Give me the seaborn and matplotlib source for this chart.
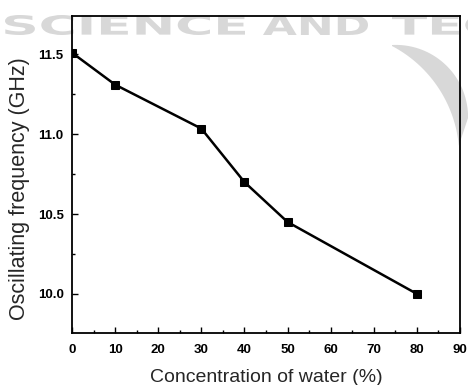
import matplotlib
matplotlib.use("Agg")
import matplotlib.pyplot as plt
from matplotlib.ticker import MultipleLocator, FormatStrFormatter
from matplotlib.textpath import TextPath
from matplotlib.font_manager import FontProperties
from matplotlib.patches import PathPatch, Polygon
from matplotlib.transforms import Affine2D
import numpy as np
import seaborn as sns
import pandas as pd

concentration = [0, 10, 30, 40, 50, 80]
frequency = [11.51, 11.31, 11.035, 10.70, 10.45, 10.00]
x_label = "Concentration of water (%)"
y_label = "Oscillating frequency (GHz)"

sns.set_style("white")
plt.rcParams['font.family'] = ['Liberation Sans', 'DejaVu Sans']

df = pd.DataFrame({"x": concentration, "y": frequency})

W, H = 468, 385
fig = plt.figure(figsize=(W / 100, H / 100), dpi=100)

# ---- watermark in a background axes ----
bg = fig.add_axes([0, 0, 1, 1], zorder=-10)
bg.set_axis_off()
bg.set_xlim(0, W)
bg.set_ylim(H, 0)   # pixel coords, y down
wm_color = '#d8d8d8'
fp = FontProperties(family='DejaVu Sans', weight='bold')
def word_patch(word, x0, x1, ytop, ybot, sx=None):
    tp = TextPath((0, 0), word, size=10, prop=fp)
    ext = tp.get_extents()
    sy = (ybot - ytop) / ext.height
    if sx is None:
        sx = (x1 - x0) / ext.width
    tr = Affine2D().translate(-ext.x0, -ext.y0).scale(sx, -sy).translate(x0, ybot)
    bg.add_patch(PathPatch(tr.transform_path(tp), facecolor=wm_color,
                           edgecolor='none'))
    return sx
sx = word_patch("SCIENCE", 5, 245, 15, 35)
word_patch("AND", 263, 368, 15, 35)
word_patch("TEC", 392, None, 15, 35, sx=sx)

def circle3(p1, p2, p3):
    (x1, y1), (x2, y2), (x3, y3) = p1, p2, p3
    A = np.array([[x2 - x1, y2 - y1], [x3 - x1, y3 - y1]], float)
    b = 0.5 * np.array([x2**2 - x1**2 + y2**2 - y1**2, x3**2 - x1**2 + y3**2 - y1**2])
    c = np.linalg.solve(A, b)
    return c, np.hypot(x1 - c[0], y1 - c[1])
def arc_pts(p_start, p_mid, p_end, n=80):
    c, r = circle3(p_start, p_mid, p_end)
    a0 = np.arctan2(p_start[1] - c[1], p_start[0] - c[0])
    a1 = np.arctan2(p_end[1] - c[1], p_end[0] - c[0])
    a = np.linspace(a0, a1 + 0.25, n)
    return np.column_stack([c[0] + r * np.cos(a), c[1] + r * np.sin(a)])
outer = arc_pts((392, 45), (440, 60), (466, 100))
inner = arc_pts((392, 46), (420, 66), (452, 115))
bg.add_patch(Polygon(np.vstack([outer, inner[::-1]]), closed=True,
                     facecolor=wm_color, edgecolor='none'))

# ---- main axes ----
ax = fig.add_axes([72 / W, 1 - 333 / H, (460 - 72) / W, (333 - 16) / H], zorder=1)
ax.patch.set_alpha(0)

sns.lineplot(data=df, x="x", y="y", ax=ax, color='black', linewidth=1.8,
             marker='s', markersize=5.5, markeredgecolor='black',
             markerfacecolor='black')

ax.set_xlim(0, 90)
ax.set_ylim(9.755, 11.74)
ax.xaxis.set_major_locator(MultipleLocator(10))
ax.xaxis.set_minor_locator(MultipleLocator(5))
ax.yaxis.set_major_locator(MultipleLocator(0.5))
ax.yaxis.set_minor_locator(MultipleLocator(0.25))
ax.tick_params(which='both', direction='in', left=True, bottom=True,
               top=False, right=False, width=1, colors='black')
ax.tick_params(which='major', length=4, labelsize=9.5)
ax.tick_params(axis='x', which='major', pad=8)
ax.tick_params(axis='y', which='major', pad=6)
ax.tick_params(which='minor', length=2.5)
for lab in ax.get_xticklabels() + ax.get_yticklabels():
    lab.set_fontweight('bold')
ax.yaxis.set_major_formatter(FormatStrFormatter('%.1f'))
for s in ax.spines.values():
    s.set_visible(True)
    s.set_color('black')
    s.set_linewidth(1.3)

ax.set_xlabel(x_label, fontsize=14, fontweight='normal', labelpad=9)
ax.set_ylabel(y_label, fontsize=15.5, fontweight='normal')
ax.yaxis.set_label_coords(-0.108, 0.457)

fig.savefig("out.png", dpi=100)
